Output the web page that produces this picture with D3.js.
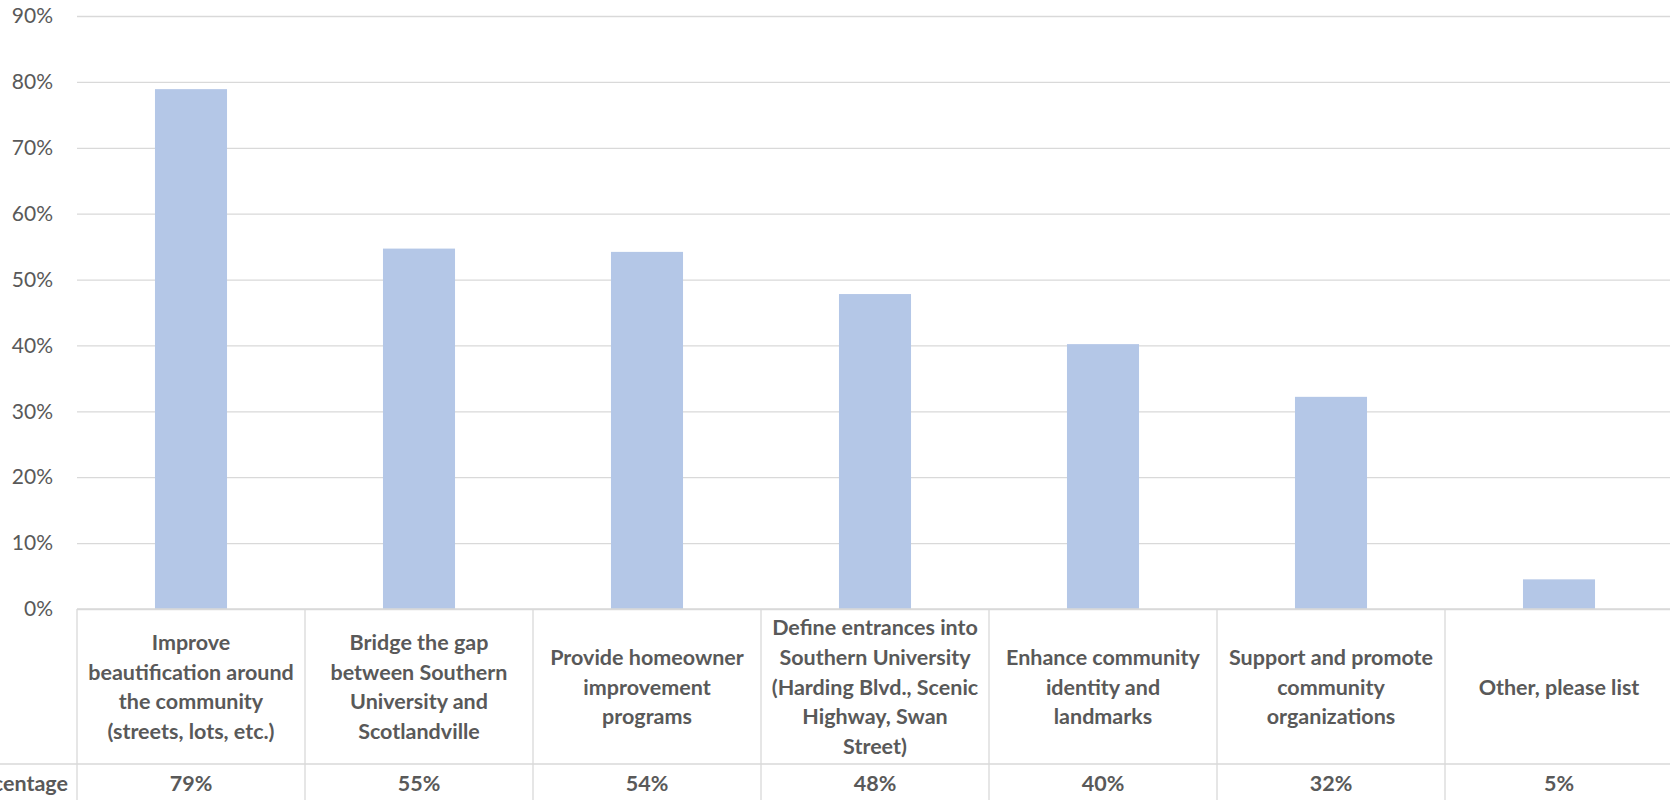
<!DOCTYPE html>
<html>
<head>
<meta charset="utf-8">
<script src="https://cdn.jsdelivr.net/npm/d3@7"></script>
<style>
  html, body { margin: 0; padding: 0; background: #fff; overflow: hidden; }
  svg { display: block; }
</style>
</head>
<body>
<svg id="chart" width="1670" height="800"></svg>
<script>
// ---- data ----
const categories = [
  "Improve\nbeautification around\nthe community\n(streets, lots, etc.)",
  "Bridge the gap\nbetween Southern\nUniversity and\nScotlandville",
  "Provide homeowner\nimprovement\nprograms",
  "Define entrances into\nSouthern University\n(Harding Blvd., Scenic\nHighway, Swan\nStreet)",
  "Enhance community\nidentity and\nlandmarks",
  "Support and promote\ncommunity\norganizations",
  "Other, please list"
];
const values = [0.789, 0.547, 0.542, 0.478, 0.402, 0.322, 0.045];
const tableLabels = ["79%", "55%", "54%", "48%", "40%", "32%", "5%"];
const seriesName = "Percentage";
const yTicks = [0, 0.1, 0.2, 0.3, 0.4, 0.5, 0.6, 0.7, 0.8, 0.9];

// ---- layout ----
const left = 77, colW = 228, n = categories.length;
const right = left + colW * n;
const yTop = 16, yZero = 609, rowSep = 764, H = 800;
const textColor = "#595959", gridColor = "#d9d9d9", barColor = "#b4c7e7";
const font = "Lato, 'Open Sans', sans-serif";
const labelSize = "21.5px";

const svg = d3.select("#chart");

const x = d3.scaleBand().domain(categories).range([left, right])
  .paddingInner(0.684).paddingOuter(0.342);
const xCol = d3.scaleBand().domain(categories).range([left, right]).padding(0);
const y = d3.scaleLinear().domain([0, 0.9]).range([yZero, yTop]);

// gridlines
const grid = svg.append("g").attr("transform", `translate(${left},0)`)
  .call(d3.axisLeft(y).tickValues(yTicks).tickSize(-(1670 - left)).tickFormat(""));
grid.select(".domain").remove();
grid.selectAll(".tick line").attr("stroke", gridColor).attr("stroke-width", 1.3);

// y tick labels
const yAxis = svg.append("g").attr("transform", `translate(${left},0)`)
  .call(d3.axisLeft(y).tickValues(yTicks).tickSize(0).tickPadding(24).tickFormat(d3.format(".0%")));
yAxis.select(".domain").remove();
yAxis.selectAll("text").attr("fill", textColor).style("font-family", font).style("font-size", "21px");

// bars
svg.append("g").selectAll("rect").data(values).join("rect")
  .attr("x", (d, i) => x(categories[i]))
  .attr("width", x.bandwidth())
  .attr("y", d => y(d))
  .attr("height", d => y(0) - y(d))
  .attr("fill", barColor);

// data table lines
const tbl = svg.append("g").attr("stroke", gridColor).attr("stroke-width", 1.3);
tbl.append("line").attr("x1", left).attr("x2", 1670).attr("y1", yZero).attr("y2", yZero);
tbl.append("line").attr("x1", 0).attr("x2", 1670).attr("y1", rowSep).attr("y2", rowSep);
tbl.selectAll(".vline").data(d3.range(n + 1)).join("line")
  .attr("class", "vline")
  .attr("x1", i => left + i * xCol.step()).attr("x2", i => left + i * xCol.step())
  .attr("y1", yZero).attr("y2", H);

// category labels
const lineH = 29.7;
const catMid = (yZero + rowSep) / 2;
const catG = svg.append("g").selectAll("text").data(categories).join("text")
  .attr("x", d => xCol(d) + xCol.bandwidth() / 2)
  .attr("text-anchor", "middle")
  .attr("fill", textColor)
  .style("font-family", font).style("font-size", labelSize).style("font-weight", "bold");
catG.each(function(d) {
  const lines = d.split("\n");
  const y0 = catMid - (lines.length - 1) / 2 * lineH;
  d3.select(this).selectAll("tspan").data(lines).join("tspan")
    .attr("x", xCol(d) + xCol.bandwidth() / 2)
    .attr("y", (l, j) => y0 + j * lineH)
    .attr("dominant-baseline", "central")
    .text(l => l);
});

// value row
const rowY = 783;
svg.append("g").selectAll("text").data(tableLabels).join("text")
  .attr("x", (d, i) => xCol(categories[i]) + xCol.bandwidth() / 2)
  .attr("y", rowY)
  .attr("text-anchor", "middle").attr("dominant-baseline", "central")
  .attr("fill", textColor)
  .style("font-family", font).style("font-size", labelSize).style("font-weight", "bold")
  .text(d => d);

svg.append("text")
  .attr("x", 68).attr("y", rowY)
  .attr("text-anchor", "end").attr("dominant-baseline", "central")
  .attr("fill", textColor)
  .style("font-family", font).style("font-size", labelSize).style("font-weight", "bold")
  .text(seriesName);
</script>
</body>
</html>
